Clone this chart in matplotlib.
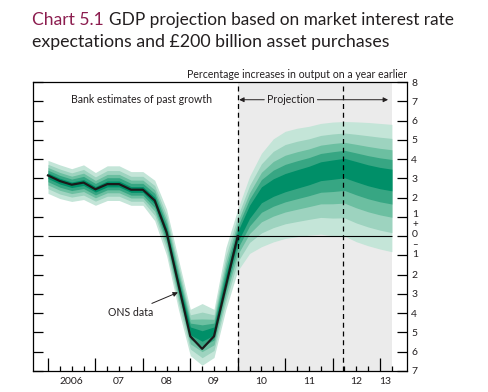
import matplotlib
matplotlib.use('Agg')
import matplotlib.pyplot as plt
import numpy as np

plt.rcParams['font.family'] = ['Lato', 'DejaVu Sans']

# Quarterly dates, 2006 Q1 to 2013 Q2
quarters = np.arange(2006.0, 2013.26, 0.25)

# ONS data (percentage change on a year earlier), 2006 to 2010
ons_x = quarters[:17]
ons_growth = [3.15, 2.86, 2.67, 2.78, 2.43, 2.70, 2.70, 2.41, 2.41, 1.85, 0.2,
              -2.5, -5.2, -5.85, -5.2, -2.6, 0.0]

# Fan chart: central (mode), upper and lower edge of 90% band
fan_mid = [3.15, 2.86, 2.67, 2.78, 2.43, 2.70, 2.70, 2.41, 2.41, 1.85, 0.2,
           -2.5, -4.9, -5.2, -4.9, -2.3, 0.0, 1.3, 2.2, 2.55, 2.8, 3.0, 3.2,
           3.45, 3.55, 3.65, 3.45, 3.25, 3.1, 3.0]
fan_hi = [3.93, 3.7, 3.5, 3.7, 3.3, 3.65, 3.65, 3.35, 3.35, 2.9, 1.4,
          -1.2, -3.8, -3.5, -3.8, -0.6, 1.4, 3.1, 4.3, 5.05, 5.44, 5.6, 5.7,
          5.85, 5.92, 5.95, 5.93, 5.9, 5.85, 5.8]
fan_lo = [2.22, 1.95, 1.8, 1.9, 1.6, 1.85, 1.85, 1.6, 1.6, 0.8, -1.0,
          -3.8, -6.2, -6.7, -6.3, -3.8, -1.8, -0.9, -0.55, -0.3, -0.12, -0.03, 0.05,
          0.1, 0.02, 0.0, -0.29, -0.5, -0.67, -0.81]

years = list(range(2006, 2014))
year_labels = ['2006', '07', '08', '09', '10', '11', '12', '13']
label_pos = [2006.5, 2007.5, 2008.5, 2009.5, 2010.5, 2011.5, 2012.5, 2013.1]

proj_start = 2010.0
proj_end = 2013.25
horizon = 2012.22

fan_colors = ['#c4e5d8', '#9dd3bf', '#6cbfa1', '#37a683', '#008f68']
fan_frac = [1.0, 0.74, 0.53, 0.35, 0.17]

txt = '#231f20'

fig = plt.figure(figsize=(4.89, 3.92), dpi=100)
ax = fig.add_axes([0.0675, 0.0536, 0.7648, 0.7372])

ax.axvspan(proj_start, proj_end, color='#ebebeb', lw=0, zorder=0)

mid = np.array(fan_mid)
hi = np.array(fan_hi)
lo = np.array(fan_lo)
for c, f in zip(fan_colors, fan_frac):
    ax.fill_between(quarters, mid + (hi - mid) * f, mid - (mid - lo) * f,
                    color=c, lw=0, zorder=1)

ax.hlines(0, 2006.0, proj_end, color='black', lw=0.8, zorder=3)
for xv in [proj_start, horizon]:
    ax.axvline(xv, color='black', lw=0.9, ls=(0, (4, 3)), zorder=3)

ax.plot(ons_x, ons_growth, color='#1a1a1a', lw=1.6, zorder=4)

ax.set_xlim(2005.684, 2013.569)
ax.set_ylim(-7, 8)

# x ticks: years (long) and quarters (short), labels between
ax.set_xticks(years)
ax.set_xticks(np.arange(2006.0, 2013.26, 0.25), minor=True)
ax.set_xticklabels([])
ax.tick_params(axis='x', which='major', direction='in', length=9.4, width=0.9)
ax.tick_params(axis='x', which='minor', direction='in', length=3.6, width=0.9)
for p, s in zip(label_pos, year_labels):
    ax.text(p, -0.038, s, transform=ax.get_xaxis_transform(), ha='center',
            va='center', fontsize=7.5, color=txt)

# y ticks both sides, labels on right only (absolute values)
yt = list(range(-7, 9))
ax.set_yticks(yt)
ax.set_yticklabels([str(abs(v)) if abs(v) > 1 else '' for v in yt])
ax.tick_params(axis='y', direction='in', length=7.2, width=0.9, left=True,
               right=True, labelleft=False, labelright=True, labelsize=7.5,
               labelcolor=txt, pad=3)
ytr = ax.get_yaxis_transform()
for yv, s in [(1.12, '1'), (0.58, '+'), (0.06, '0'), (-0.44, '\u2013'), (-0.95, '1')]:
    ax.text(1.014, yv, s, transform=ytr, ha='left', va='center',
            fontsize=7.5 if s not in '+\u2013' else 7, color=txt)

for sp in ax.spines.values():
    sp.set_linewidth(0.9)

ax.text(2007.98, 7.08, 'Bank estimates of past growth', ha='center',
        va='center', fontsize=7.6, color=txt)
ax.text(2011.12, 7.08, 'Projection', ha='center', va='center', fontsize=7.6,
        color=txt)
arrow = dict(arrowstyle='-|>', color=txt, lw=0.7, mutation_scale=7,
             shrinkA=0, shrinkB=0)
ax.annotate('', xy=(2010.03, 7.08), xytext=(2010.56, 7.08), arrowprops=arrow)
ax.annotate('', xy=(2013.17, 7.08), xytext=(2011.68, 7.08), arrowprops=arrow)

ax.annotate('ONS data', xy=(2008.74, -2.92), xytext=(2007.75, -3.95),
            ha='center', va='center', fontsize=7.6, color=txt,
            arrowprops=dict(arrowstyle='-|>', color=txt, lw=0.7,
                            mutation_scale=7, shrinkA=1, shrinkB=0))

fig.text(0.065, 0.936, 'Chart 5.1', color='#8c1d4f', fontsize=12.6,
         va='baseline', ha='left')
fig.text(0.222, 0.936, 'GDP projection based on market interest rate',
         color=txt, fontsize=12.4, va='baseline', ha='left')
fig.text(0.065, 0.881, 'expectations and \u00a3200 billion asset purchases',
         color=txt, fontsize=12.8, va='baseline', ha='left')
fig.text(0.832, 0.8, 'Percentage increases in output on a year earlier',
         color=txt, fontsize=7.6, va='baseline', ha='right')

fig.savefig('out.png', dpi=100)
